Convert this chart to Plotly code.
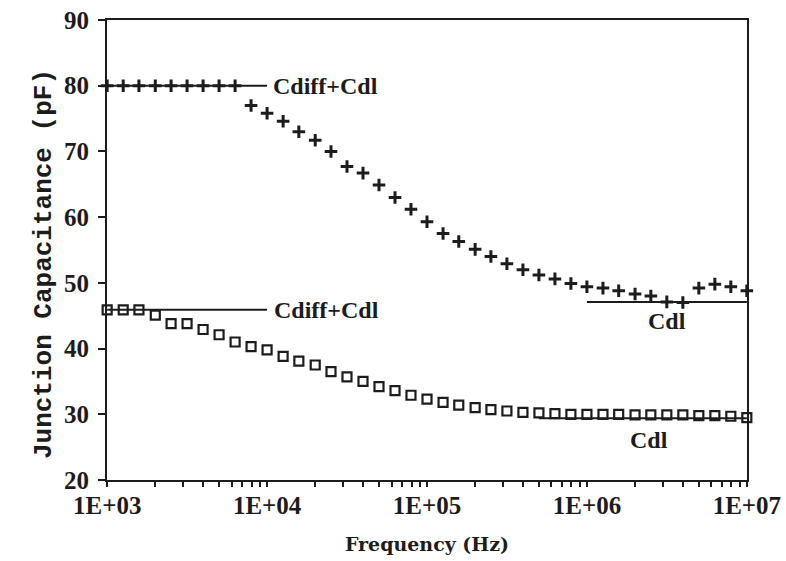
import plotly.graph_objects as go

# Measurement frequencies (Hz), ten points per decade from 1 kHz to 10 MHz
freq = [
    1.00e3, 1.26e3, 1.58e3, 2.00e3, 2.51e3, 3.16e3, 3.98e3, 5.01e3, 6.31e3, 7.94e3,
    1.00e4, 1.26e4, 1.58e4, 2.00e4, 2.51e4, 3.16e4, 3.98e4, 5.01e4, 6.31e4, 7.94e4,
    1.00e5, 1.26e5, 1.58e5, 2.00e5, 2.51e5, 3.16e5, 3.98e5, 5.01e5, 6.31e5, 7.94e5,
    1.00e6, 1.26e6, 1.58e6, 2.00e6, 2.51e6, 3.16e6, 3.98e6, 5.01e6, 6.31e6, 7.94e6,
    1.00e7,
]

# Junction capacitance (pF), high-bias curve ("+" markers)
cap_high = [
    80.0, 80.0, 80.0, 80.0, 80.0, 80.0, 80.0, 80.0, 80.0, 77.0,
    75.8, 74.6, 73.0, 71.7, 70.0, 67.7, 66.7, 64.9, 63.0, 61.2,
    59.3, 57.5, 56.3, 55.1, 54.0, 52.9, 52.0, 51.2, 50.6, 49.9,
    49.4, 49.2, 48.8, 48.3, 48.0, 47.1, 47.0, 49.2, 49.8, 49.4,
    48.8,
]

# Junction capacitance (pF), low-bias curve (square markers)
cap_low = [
    45.9, 45.9, 45.9, 45.1, 43.8, 43.8, 42.9, 42.1, 41.0, 40.3,
    39.8, 38.8, 38.1, 37.5, 36.5, 35.7, 35.0, 34.2, 33.6, 32.9,
    32.3, 31.8, 31.4, 31.0, 30.7, 30.5, 30.3, 30.2, 30.1, 30.0,
    30.0, 30.0, 30.0, 29.9, 29.9, 29.9, 29.9, 29.8, 29.8, 29.7,
    29.5,
]

# Asymptote levels (pF) and their frequency spans (Hz)
high_lf_span, high_lf_level = [1e3, 1e4], 80.0
high_hf_span, high_hf_level = [1e6, 1e7], 47.1
low_lf_span, low_lf_level = [1e3, 1e4], 45.9
low_hf_span, low_hf_level = [5e5, 1e7], 29.4

x_tickvals = [1e3, 1e4, 1e5, 1e6, 1e7]
x_ticktext = ["1E+03", "1E+04", "1E+05", "1E+06", "1E+07"]
y_tickvals = [20, 30, 40, 50, 60, 70, 80, 90]

INK = "#1c1c1c"
SERIF = "Liberation Serif"

fig = go.Figure()

# Asymptote reference lines
for span, level in [(high_lf_span, high_lf_level), (high_hf_span, high_hf_level),
                    (low_lf_span, low_lf_level), (low_hf_span, low_hf_level)]:
    fig.add_trace(go.Scatter(
        x=span, y=[level, level], mode="lines",
        line=dict(color=INK, width=2), showlegend=False, hoverinfo="skip",
        cliponaxis=False,
    ))

fig.add_trace(go.Scatter(
    x=freq, y=cap_high, mode="markers", name="high",
    marker=dict(symbol="cross-thin", size=9, color=INK,
                line=dict(color=INK, width=3)),
    showlegend=False, cliponaxis=False,
))

fig.add_trace(go.Scatter(
    x=freq, y=cap_low, mode="markers", name="low",
    marker=dict(symbol="square-open", size=9, color=INK,
                line=dict(color=INK, width=2.2)),
    showlegend=False, cliponaxis=False,
))

label_font = dict(family=SERIF, size=24, color=INK, weight="bold")
annotations = [
    dict(x=4.0, y=high_lf_level, text="Cdiff+Cdl", xanchor="left", xshift=4),
    dict(x=4.0, y=low_lf_level, text="Cdiff+Cdl", xanchor="left", xshift=5),
    dict(x=6.5, y=44.2, text="Cdl", xanchor="center"),
    dict(x=6.39, y=26.1, text="Cdl", xanchor="center"),
]
for a in annotations:
    a.update(xref="x", yref="y", showarrow=False, yanchor="middle", font=label_font)

annotations.append(dict(
    text="Junction Capacitance (pF)", xref="paper", yref="paper",
    x=-0.098, y=0.47, xanchor="center", yanchor="middle", textangle=-90,
    showarrow=False, font=dict(family="Liberation Mono", size=26, color=INK, weight="bold"),
))

fig.update_layout(
    width=786, height=561,
    margin=dict(l=107, r=39, t=20, b=81),
    paper_bgcolor="white", plot_bgcolor="white",
    annotations=annotations,
    xaxis=dict(
        type="log", range=[2.999, 7.001], automargin=False, layer="below traces",
        tickvals=x_tickvals, ticktext=x_ticktext,
        ticks="outside", ticklen=5, tickwidth=2, tickcolor=INK,
        minor=dict(ticks="outside", ticklen=5, tickwidth=1.5, tickcolor=INK,
                   dtick="D1", showgrid=False),
        showline=True, linewidth=2, linecolor=INK, mirror=True,
        showgrid=False, zeroline=False,
        tickfont=dict(family=SERIF, size=25, color=INK, weight="bold"),
        ticklabelstandoff=-3,
        title=dict(text="Frequency (Hz)", standoff=20,
                   font=dict(family="DejaVu Serif", size=19, color=INK, weight="bold")),
    ),
    yaxis=dict(
        range=[20, 90], tickvals=y_tickvals, automargin=False, layer="below traces",
        ticks="outside", ticklen=7, tickwidth=2, tickcolor=INK,
        showline=True, linewidth=2, linecolor=INK, mirror=True,
        showgrid=False, zeroline=False,
        tickfont=dict(family=SERIF, size=25, color=INK, weight="bold"),
        ticklabelstandoff=4,
    ),
)

fig.write_html("out.html")
